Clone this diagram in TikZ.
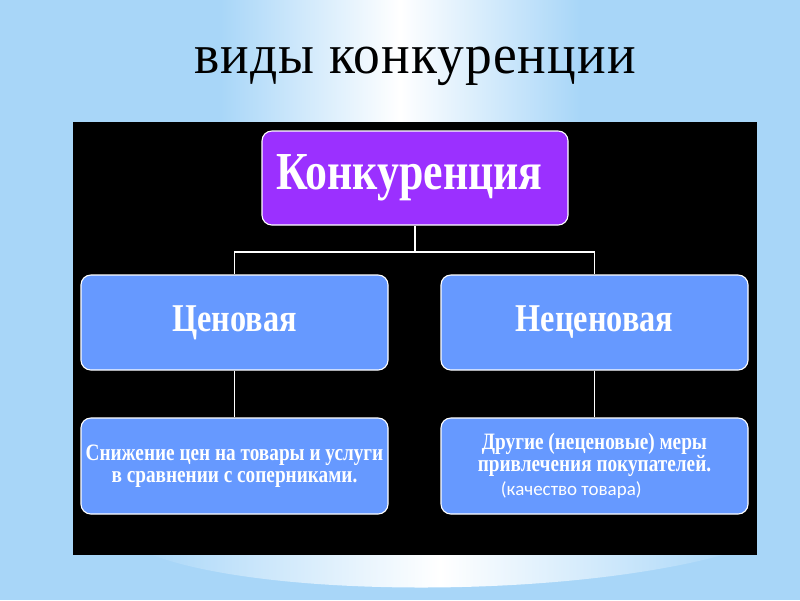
\documentclass[tikz,border=0pt]{standalone}
\usepackage{fontspec}
\setmainfont{Liberation Serif}
\newfontfamily\titlefont{Liberation Serif}[LetterSpace=2,FakeStretch=0.95]
\newfontfamily\boxfont{Liberation Serif}[FakeStretch=0.82]
\newfontfamily\notefont{Carlito}
\definecolor{bgblue}{RGB}{168,214,248}
\definecolor{topcol}{RGB}{155,48,255}
\definecolor{boxcol}{RGB}{102,153,255}
\tikzset{
  bx/.style={draw=white, line width=0.8pt, rounded corners=7pt, fill=boxcol,
    minimum width=307*0.025cm, minimum height=95*0.025cm, inner sep=0pt,
    text=white, align=center},
  link/.style={draw=white, line width=1.3pt}
}
\begin{document}
\begin{tikzpicture}[x=0.025cm,y=-0.025cm]
\useasboundingbox (0,0) rectangle (800,600);
% background
\fill[bgblue] (0,0) rectangle (800,600);
\shade[left color=bgblue, right color=bgblue, middle color=white] (220,0) rectangle (580,125);
\shade[left color=bgblue, right color=bgblue, middle color=white]
  (140,550) .. controls (250,600) and (580,600) .. (740,550) -- cycle;
% title
\node[font=\titlefont\fontsize{40pt}{44pt}\selectfont, text=black, anchor=base] (title) at (415,73) {виды конкуренции};
% panel
\fill[black] (73,122) rectangle (757,555);
% nodes
\node[bx, fill=topcol, minimum width=306*0.025cm, minimum height=94*0.025cm,
  font=\boxfont\bfseries\fontsize{38pt}{40pt}\selectfont] (top) at (415,178) {Конкуренция\hspace*{8pt}};
\node[bx, font=\boxfont\bfseries\fontsize{28pt}{30pt}\selectfont] (l1) at (234.5,322.5) {Ценовая};
\node[bx, font=\boxfont\bfseries\fontsize{28pt}{30pt}\selectfont] (r1) at (594.5,322.5) {Неценовая};
\node[bx, minimum height=96*0.025cm, font=\boxfont\bfseries\fontsize{16.7pt}{16pt}\selectfont] (l2) at (234.5,466)
  {Снижение цен на товары и услуги\\в сравнении с соперниками.};
\node[bx, minimum height=96*0.025cm, font=\boxfont\bfseries\fontsize{16.7pt}{16pt}\selectfont] (r2) at (594.5,466)
  {Другие (неценовые) меры\\привлечения покупателей.\\[1pt]{\notefont\mdseries\fontsize{13.5pt}{14pt}\selectfont\hspace*{-33pt}(качество товара)}};
% connectors
\coordinate (j) at (415,252);
\draw[link] (top.south) -- (j);
\draw[link] (j) -| (l1.north);
\draw[link] (j) -| (r1.north);
\draw[link] (l1.south) -- (l2.north);
\draw[link] (r1.south) -- (r2.north);
\end{tikzpicture}
\end{document}
